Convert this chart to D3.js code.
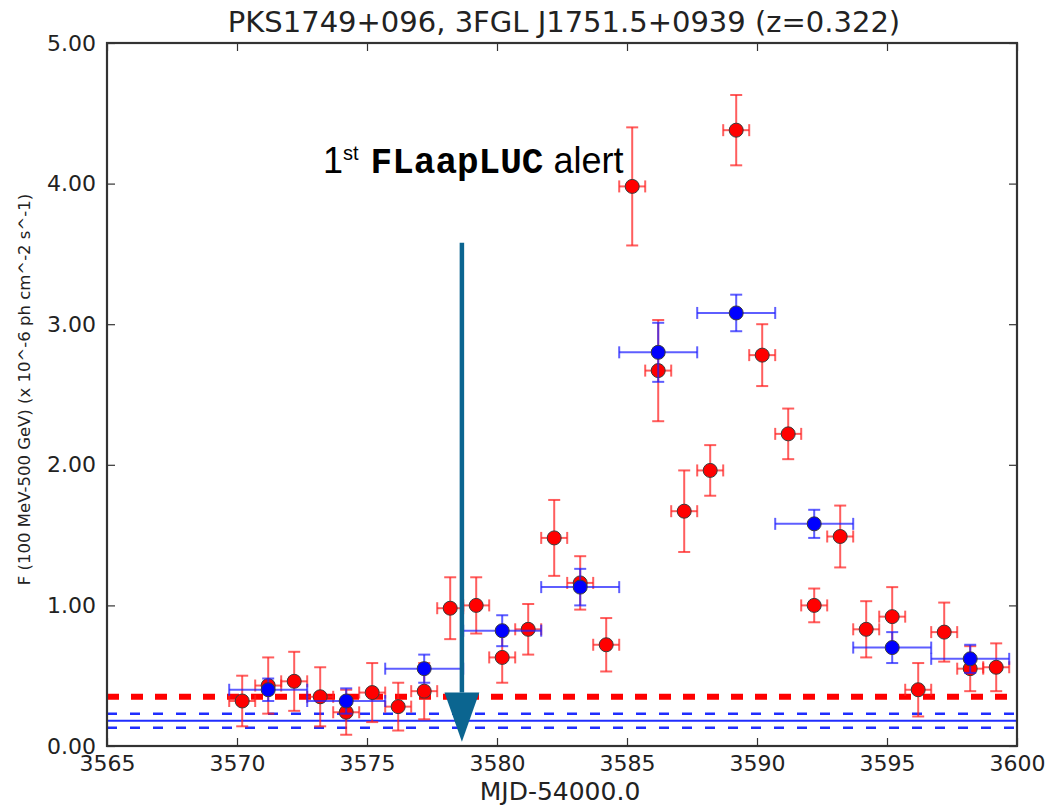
<!DOCTYPE html>
<html>
<head>
<meta charset="utf-8">
<script src="https://cdn.jsdelivr.net/npm/d3@7/dist/d3.min.js"></script>
<style>
  body { margin: 0; background: #fff; }
  svg { display: block; }
</style>
</head>
<body>
<svg id="chart" width="1048" height="805"></svg>
<script>
// daily bins (red)
var dayMjd = [3570.2, 3571.2, 3572.2, 3573.2, 3574.2, 3575.2, 3576.2, 3577.2, 3578.2, 3579.2,
              3580.2, 3581.2, 3582.2, 3583.2, 3584.2, 3585.2, 3586.2, 3587.2, 3588.2, 3589.2,
              3590.2, 3591.2, 3592.2, 3593.2, 3594.2, 3595.2, 3596.2, 3597.2, 3598.2, 3599.2];
var dayFlux = [0.32, 0.43, 0.46, 0.35, 0.24, 0.38, 0.28, 0.39, 0.98, 1.00,
               0.63, 0.83, 1.48, 1.16, 0.72, 3.98, 2.67, 1.67, 1.96, 4.38,
               2.78, 2.22, 1.00, 1.49, 0.83, 0.92, 0.40, 0.81, 0.55, 0.56];
var dayErr = [0.18, 0.20, 0.21, 0.21, 0.16, 0.21, 0.17, 0.20, 0.22, 0.20,
              0.18, 0.18, 0.27, 0.19, 0.19, 0.42, 0.36, 0.29, 0.18, 0.25,
              0.22, 0.18, 0.12, 0.22, 0.20, 0.21, 0.19, 0.21, 0.16, 0.17];
var dayHalfWidth = 0.5;

// 3-day bins (blue)
var binMjd = [3571.2, 3574.2, 3577.2, 3580.2, 3583.2, 3586.2, 3589.2, 3592.2, 3595.2, 3598.2];
var binFlux = [0.40, 0.32, 0.55, 0.82, 1.13, 2.80, 3.08, 1.58, 0.70, 0.62];
var binErr = [0.08, 0.09, 0.10, 0.11, 0.13, 0.21, 0.13, 0.10, 0.11, 0.10];
var binHalfWidth = 1.5;

// reference levels
var redLevel = 0.35;
var blueLevel = 0.18;
var blueBand = [0.13, 0.23];

// alert arrow
var alertMjd = 3578.65;
var alertTop = 3.58;
var alertTip = 0.03;
var alertHeadTop = 0.38;
var alertHeadHalf = 0.67;

var xTicks = [3565, 3570, 3575, 3580, 3585, 3590, 3595, 3600];
var yTicks = [0, 1, 2, 3, 4, 5];

var titleText = "PKS1749+096, 3FGL J1751.5+0939 (z=0.322)";
var xLabel = "MJD-54000.0";
var yLabel = "F (100 MeV-500 GeV) (x 10^-6 ph cm^-2 s^-1)";

var svg = d3.select("#chart"),
    margin = {top: 43, right: 31, bottom: 59, left: 107},
    width = +svg.attr("width") - margin.left - margin.right,
    height = +svg.attr("height") - margin.top - margin.bottom,
    g = svg.append("g").attr("transform", "translate(" + margin.left + "," + margin.top + ")");

var x = d3.scaleLinear().domain([3565, 3600]).range([0, width]);
var y = d3.scaleLinear().domain([0, 5]).range([height, 0]);

var red = dayMjd.map(function(d, i) { return {x: d, y: dayFlux[i], e: dayErr[i], h: dayHalfWidth}; });
var blue = binMjd.map(function(d, i) { return {x: d, y: binFlux[i], e: binErr[i], h: binHalfWidth}; });

// horizontal levels
g.append("line")
  .attr("x1", 0).attr("x2", width)
  .attr("y1", y(redLevel)).attr("y2", y(redLevel))
  .attr("stroke", "#ff0000").attr("stroke-width", 6)
  .attr("stroke-dasharray", "12,12");

g.append("line")
  .attr("x1", 0).attr("x2", width)
  .attr("y1", y(blueLevel)).attr("y2", y(blueLevel))
  .attr("stroke", "#1f2dff").attr("stroke-width", 2);

g.selectAll(".band")
  .data(blueBand)
  .enter().append("line")
    .attr("class", "band")
    .attr("x1", 0).attr("x2", width)
    .attr("y1", function(d) { return y(d); }).attr("y2", function(d) { return y(d); })
    .attr("stroke", "#1f2dff").attr("stroke-width", 2.5)
    .attr("stroke-dasharray", "10,13");

function drawSeries(data, color, fill) {
  var s = g.append("g");
  var cap = 6;
  var bars = s.selectAll("g")
    .data(data)
    .enter().append("g")
      .attr("stroke", color)
      .attr("stroke-opacity", 0.72)
      .attr("stroke-width", 2);

  // vertical error
  bars.append("line")
    .attr("x1", function(d) { return x(d.x); }).attr("x2", function(d) { return x(d.x); })
    .attr("y1", function(d) { return y(d.y - d.e); }).attr("y2", function(d) { return y(d.y + d.e); });
  bars.append("line")
    .attr("x1", function(d) { return x(d.x) - cap; }).attr("x2", function(d) { return x(d.x) + cap; })
    .attr("y1", function(d) { return y(d.y + d.e); }).attr("y2", function(d) { return y(d.y + d.e); });
  bars.append("line")
    .attr("x1", function(d) { return x(d.x) - cap; }).attr("x2", function(d) { return x(d.x) + cap; })
    .attr("y1", function(d) { return y(d.y - d.e); }).attr("y2", function(d) { return y(d.y - d.e); });

  // horizontal error
  bars.append("line")
    .attr("x1", function(d) { return x(d.x - d.h); }).attr("x2", function(d) { return x(d.x + d.h); })
    .attr("y1", function(d) { return y(d.y); }).attr("y2", function(d) { return y(d.y); });
  bars.append("line")
    .attr("x1", function(d) { return x(d.x - d.h); }).attr("x2", function(d) { return x(d.x - d.h); })
    .attr("y1", function(d) { return y(d.y) - cap; }).attr("y2", function(d) { return y(d.y) + cap; });
  bars.append("line")
    .attr("x1", function(d) { return x(d.x + d.h); }).attr("x2", function(d) { return x(d.x + d.h); })
    .attr("y1", function(d) { return y(d.y) - cap; }).attr("y2", function(d) { return y(d.y) + cap; });

  s.selectAll("circle")
    .data(data)
    .enter().append("circle")
      .attr("cx", function(d) { return x(d.x); })
      .attr("cy", function(d) { return y(d.y); })
      .attr("r", 7)
      .attr("fill", fill)
      .attr("stroke", "#3a3a3a")
      .attr("stroke-width", 1);
}

drawSeries(red, "#ff2020", "#ff0000");
drawSeries(blue, "#2020ff", "#0000ff");

// axes, ticks inside
var xAxis = d3.axisBottom(x).tickValues(xTicks).tickSize(-8).tickPadding(9).tickFormat(d3.format("d"));
var xTop = d3.axisTop(x).tickValues(xTicks).tickSize(-8).tickFormat("");
var yAxis = d3.axisLeft(y).tickValues(yTicks).tickSize(-8).tickPadding(11).tickFormat(d3.format(".2f"));
var yRight = d3.axisRight(y).tickValues(yTicks).tickSize(-8).tickFormat("");

g.append("g").attr("class", "axis").attr("transform", "translate(0," + height + ")").call(xAxis);
g.append("g").attr("class", "axis").call(xTop);
g.append("g").attr("class", "axis").call(yAxis);
g.append("g").attr("class", "axis").attr("transform", "translate(" + width + ",0)").call(yRight);

svg.selectAll(".axis .domain").remove();
svg.selectAll(".axis line").attr("stroke", "#333").attr("stroke-width", 1.2);
svg.selectAll(".axis text")
  .attr("fill", "#222")
  .style("font-family", "'DejaVu Sans', sans-serif")
  .style("font-size", "22px");

// frame
g.append("rect")
  .attr("width", width).attr("height", height)
  .attr("fill", "none").attr("stroke", "#333").attr("stroke-width", 2.2);

// alert arrow
g.append("line")
  .attr("x1", x(alertMjd)).attr("x2", x(alertMjd))
  .attr("y1", y(alertTop)).attr("y2", y(alertHeadTop))
  .attr("stroke", "#0b6590").attr("stroke-width", 4.5);
g.append("path")
  .attr("d", "M" + x(alertMjd - alertHeadHalf) + "," + y(alertHeadTop) +
             "L" + x(alertMjd + alertHeadHalf) + "," + y(alertHeadTop) +
             "L" + x(alertMjd) + "," + y(alertTip) + "Z")
  .attr("fill", "#0b6590");

var note = svg.append("text")
  .attr("x", 323).attr("y", 173)
  .attr("fill", "#000")
  .style("font-family", "'Liberation Sans', Arial, sans-serif")
  .style("font-size", "36px");
note.append("tspan").text("1");
note.append("tspan").attr("dy", -13).style("font-size", "20px").text("st");
note.append("tspan").attr("dy", 13).attr("dx", 12)
  .style("font-family", "'Liberation Mono', 'Courier New', monospace")
  .style("font-weight", "bold").style("font-size", "36px").text("FLaapLUC");
note.append("tspan").text(" alert");

// title and labels
svg.append("text")
  .attr("x", margin.left + width / 2 + 2).attr("y", 32)
  .attr("text-anchor", "middle")
  .attr("fill", "#222")
  .style("font-family", "'DejaVu Sans', sans-serif")
  .style("font-size", "29px")
  .text(titleText);

svg.append("text")
  .attr("x", margin.left + width / 2 - 2).attr("y", 800)
  .attr("text-anchor", "middle")
  .attr("fill", "#222")
  .style("font-family", "'DejaVu Sans', sans-serif")
  .style("font-size", "25px")
  .text(xLabel);

svg.append("text")
  .attr("transform", "translate(30," + (margin.top + height / 2 - 5) + ") rotate(-90)")
  .attr("text-anchor", "middle")
  .attr("fill", "#222")
  .style("font-family", "'DejaVu Sans', sans-serif")
  .style("font-size", "16.5px")
  .text(yLabel);
</script>
</body>
</html>
